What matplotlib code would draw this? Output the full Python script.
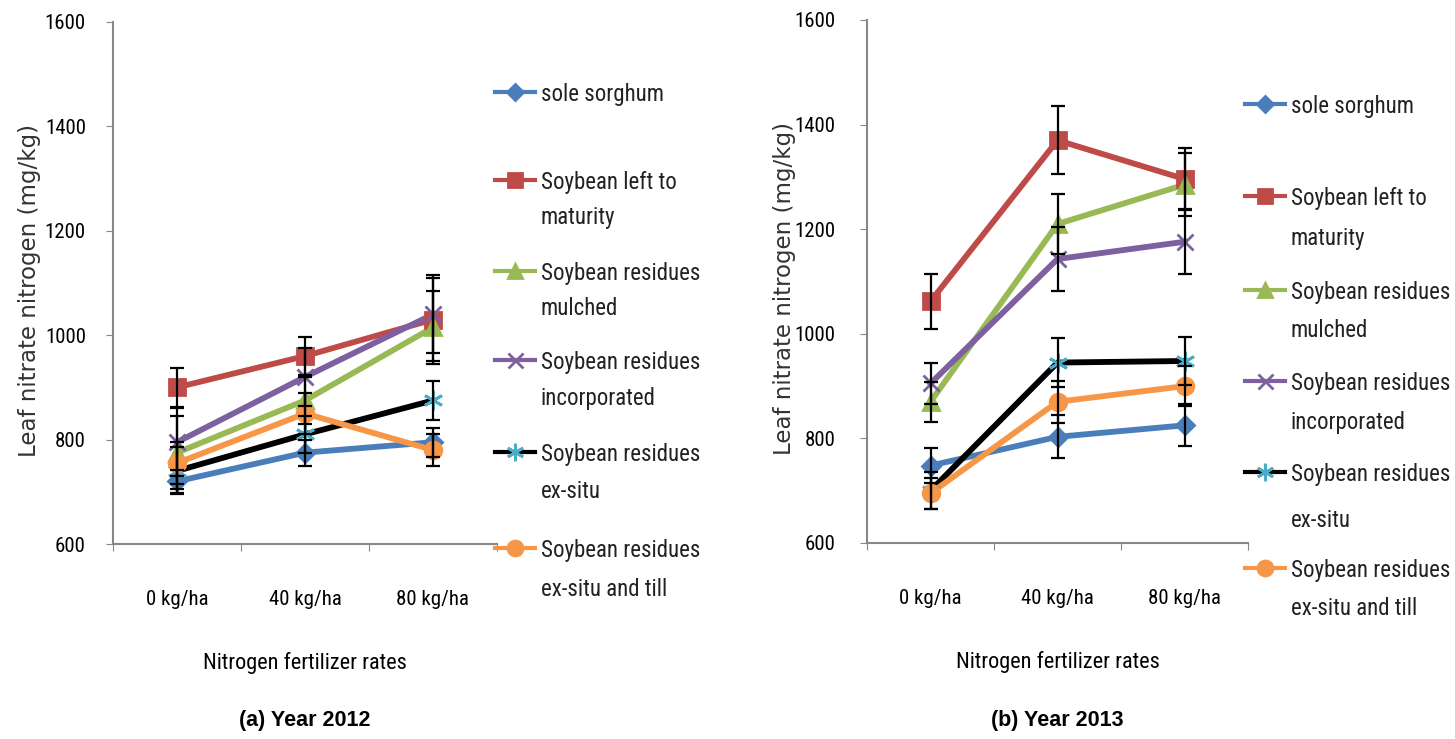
import numpy as np
import matplotlib
matplotlib.use("Agg")
import matplotlib.pyplot as plt
from matplotlib.lines import Line2D
from matplotlib import font_manager

# rates on the x axis
rates = ["0 kg/ha", "40 kg/ha", "80 kg/ha"]

names = [["sole sorghum"], ["Soybean left to", "maturity"], ["Soybean residues", "mulched"],
         ["Soybean residues", "incorporated"], ["Soybean residues", "ex-situ"],
         ["Soybean residues", "ex-situ and till"]]

# leaf nitrate nitrogen (mg/kg), 2012
sole_2012 = [720, 775, 795]
left_2012 = [900, 960, 1030]
mulch_2012 = [775, 875, 1015]
incorp_2012 = [795, 920, 1040]
exsitu_2012 = [740, 810, 875]
till_2012 = [755, 850, 780]

err_sole_2012 = [22, 25, 28]
err_left_2012 = [37, 36, 80]
err_mulch_2012 = [70, 45, 70]
err_incorp_2012 = [65, 55, 75]
err_exsitu_2012 = [45, 35, 38]
err_till_2012 = [40, 40, 30]

# leaf nitrate nitrogen (mg/kg), 2013
sole_2013 = [748, 803, 825]
left_2013 = [1062, 1370, 1296]
mulch_2013 = [870, 1210, 1285]
incorp_2013 = [905, 1143, 1176]
exsitu_2013 = [700, 945, 948]
till_2013 = [695, 870, 900]

err_sole_2013 = [33, 41, 40]
err_left_2013 = [52, 65, 60]
err_mulch_2013 = [38, 58, 60]
err_incorp_2013 = [40, 62, 62]
err_exsitu_2013 = [35, 47, 45]
err_till_2013 = [30, 40, 38]

colors = ["#4A7EBB", "#BE4B48", "#98B954", "#7D60A0", "#000000", "#F79646"]
mcolors = ["#4A7EBB", "#BE4B48", "#98B954", "#7D60A0", "#4BACC6", "#F79646"]
markers = ["D", "s", "^", "x", (6, 2, 0), "o"]
msizes = [9, 11, 11, 12, 14, 12]

# look for a narrow sans face, else plain Liberation Sans
narrow_file = None
for want in ["Liberation Sans Narrow", "Arial Narrow", "Roboto Condensed",
             "Open Sans Condensed", "DejaVu Sans Condensed"]:
    for f in font_manager.fontManager.ttflist:
        full = f.name + (" Condensed" if "condensed" in str(f.stretch) and "Condensed" not in f.name else "")
        if full == want and f.weight in (400, "normal", "regular") and f.style == "normal":
            narrow_file = f.fname
            break
    if narrow_file:
        break
if narrow_file:
    def nfont(size):
        return font_manager.FontProperties(fname=narrow_file, size=size)
    sz_tick, sz_leg, sz_xl = 15, 16.5, 16
else:
    def nfont(size):
        return font_manager.FontProperties(family="Liberation Sans", size=size)
    sz_tick, sz_leg, sz_xl = 13, 14, 14.3

fig = plt.figure(figsize=(14.55, 7.39), dpi=100)
W, H = 1455, 739


def panel(rect, data, errs, caption, legend_x, legend_y, gaps, yl_x, ypad):
    ax = fig.add_axes(rect)
    x = np.arange(len(rates))
    for i in range(len(data)):
        ax.plot(x, data[i], color=colors[i], lw=4.2, zorder=2 + i * 0.1)
        ax.plot(x, data[i], ls="none", marker=markers[i], ms=msizes[i],
                mfc=mcolors[i], mec=mcolors[i], mew=2, zorder=3 + i * 0.1)
        ax.errorbar(x, data[i], yerr=errs[i], fmt="none", ecolor="black",
                    elinewidth=1.6, capsize=5, capthick=1.6, zorder=4)
    ax.set_xlim(-0.5, 2.5)
    ax.set_ylim(600, 1600)
    ax.set_yticks(np.arange(600, 1601, 200))
    ax.set_xticks([-0.5, 0.5, 1.5, 2.5])
    ax.set_xticklabels([])
    ax.set_xticks(x, minor=True)
    ax.set_xticklabels(rates, minor=True, fontproperties=nfont(sz_tick))
    ax.tick_params(axis="x", which="minor", length=0, pad=33)
    ax.tick_params(axis="x", which="major", length=5, color="#888888")
    ax.tick_params(axis="y", length=5, color="#888888", pad=ypad)
    for lab in ax.get_yticklabels():
        lab.set_fontproperties(nfont(sz_tick))
    for s in ["top", "right"]:
        ax.spines[s].set_visible(False)
    for s in ["left", "bottom"]:
        ax.spines[s].set_color("#888888")
        ax.spines[s].set_linewidth(1.5)
    ax.set_xlabel("Nitrogen fertilizer rates", fontproperties=nfont(sz_xl),
                  labelpad=31)
    fig.text(yl_x, rect[1] + rect[3] / 2 - 0.01, "Leaf nitrate nitrogen (mg/kg)",
             rotation=90, ha="center", va="center", fontsize=16.5,
             fontfamily="DejaVu Sans", color="#333333")
    fig.text(rect[0] + rect[2] / 2, 0.025, caption, ha="center", va="center",
             fontsize=15.5, fontweight="bold", fontfamily="Liberation Sans")

    # legend beside the axes
    for i, lines in enumerate(names):
        yy = 1 - legend_y[i] / H
        x0 = legend_x / W
        fig.add_artist(Line2D([x0, x0 + 40 / W], [yy, yy], color=colors[i], lw=3,
                              transform=fig.transFigure))
        fig.add_artist(Line2D([x0 + 20 / W], [yy], ls="none", marker=markers[i],
                              ms=msizes[i] * 0.9, mfc=mcolors[i], mec=mcolors[i],
                              mew=2, transform=fig.transFigure))
        for k, txt in enumerate(lines):
            fig.text(x0 + 46 / W, yy - k * gaps[i] / H, txt, ha="left",
                     va="center_baseline", fontproperties=nfont(sz_leg),
                     color="#222222")
    return ax


data_2012 = [sole_2012, left_2012, mulch_2012, incorp_2012, exsitu_2012, till_2012]
errs_2012 = [err_sole_2012, err_left_2012, err_mulch_2012, err_incorp_2012,
             err_exsitu_2012, err_till_2012]
data_2013 = [sole_2013, left_2013, mulch_2013, incorp_2013, exsitu_2013, till_2013]
errs_2013 = [err_sole_2013, err_left_2013, err_mulch_2013, err_incorp_2013,
             err_exsitu_2013, err_till_2013]

panel([113 / W, 1 - 544 / H, 384 / W, 522 / H], data_2012, errs_2012,
      "(a) Year 2012", 495, [92, 180, 271, 360, 452, 548],
      [0, 35, 35, 36, 37, 39], 30 / W, 14.5)
panel([867 / W, 1 - 543 / H, 381 / W, 523 / H], data_2013, errs_2013,
      "(b) Year 2013", 1245, [104, 196, 290, 381, 472, 568],
      [0, 40, 38, 39, 46, 38], 785 / W, 17.5)

fig.savefig("out.png", dpi=100, facecolor="white")
